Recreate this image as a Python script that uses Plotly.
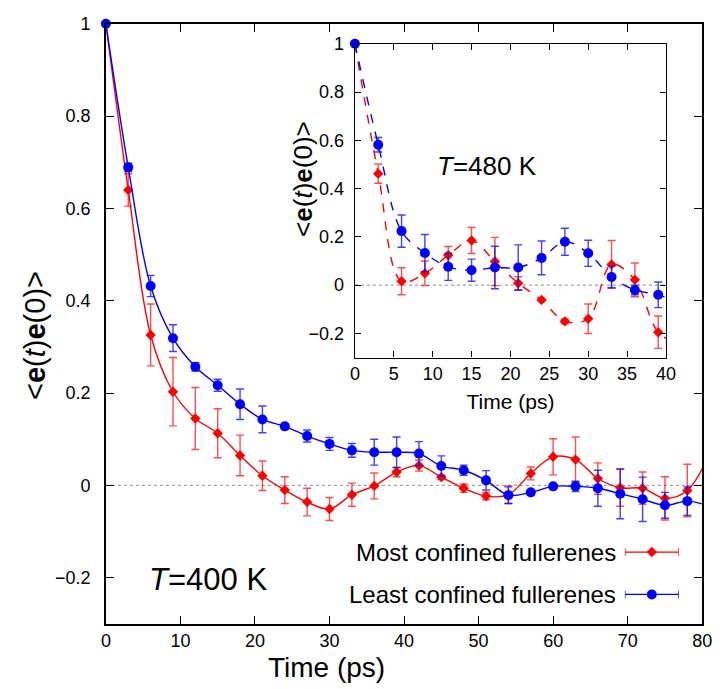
import plotly.graph_objects as go

FONT = "Liberation Sans, Arial, Helvetica, sans-serif"

# ---------------- Main panel data (T = 400 K) ----------------
t_main = [0, 3, 6, 9, 12, 15, 18, 21, 24, 27, 30, 33, 36, 39, 42, 45, 48, 51, 54,
          57, 60, 63, 66, 69, 72, 75, 78]
most_main = [1.0, 0.640, 0.326, 0.203, 0.145, 0.113, 0.065, 0.021, -0.010, -0.036,
             -0.051, -0.020, -0.001, 0.029, 0.043, 0.018, -0.006, -0.023, -0.020,
             0.026, 0.062, 0.056, 0.015, -0.005, -0.006, -0.028, -0.011]
most_main_err = [0.0, 0.035, 0.067, 0.074, 0.067, 0.053, 0.044, 0.032, 0.029, 0.030,
                 0.025, 0.025, 0.028, 0.010, 0.012, 0.005, 0.009, 0.008, 0.019,
                 0.014, 0.039, 0.049, 0.034, 0.040, 0.035, 0.047, 0.057]
least_main = [1.0, 0.689, 0.432, 0.319, 0.257, 0.217, 0.176, 0.143, 0.128, 0.107,
              0.090, 0.076, 0.072, 0.072, 0.069, 0.042, 0.033, 0.011, -0.021,
              -0.015, -0.002, -0.002, -0.006, -0.018, -0.030, -0.043, -0.034]
least_main_err = [0.0, 0.009, 0.023, 0.029, 0.009, 0.013, 0.033, 0.029, 0.006, 0.013,
                  0.014, 0.015, 0.028, 0.033, 0.026, 0.022, 0.011, 0.021, 0.018,
                  0.005, 0.005, 0.011, 0.039, 0.054, 0.048, 0.028, 0.031]
# the curves continue past the right edge of the axes
t_main_tail = [81]
most_main_tail = [0.07]
least_main_tail = [-0.045]

# ---------------- Inset data (T = 480 K) ----------------
t_inset = [0, 3, 6, 9, 12, 15, 18, 21, 24, 27, 30, 33, 36, 39]
most_inset = [1.0, 0.462, 0.016, 0.049, 0.124, 0.185, 0.098, 0.008, -0.061, -0.150,
              -0.139, 0.086, 0.022, -0.195]
most_inset_err = [0.0, 0.040, 0.056, 0.051, 0.036, 0.054, 0.100, 0.027, 0.005, 0.010,
                  0.061, 0.099, 0.070, 0.067]
least_inset = [1.0, 0.582, 0.224, 0.133, 0.076, 0.062, 0.073, 0.073, 0.113, 0.180,
               0.132, 0.034, -0.020, -0.040]
least_inset_err = [0.0, 0.030, 0.067, 0.077, 0.056, 0.046, 0.088, 0.094, 0.070, 0.056,
                   0.054, 0.045, 0.020, 0.053]
t_inset_tail = [42]
most_inset_tail = [-0.25]
least_inset_tail = [-0.08]

series_names = ["Most confined fullerenes", "Least confined fullerenes"]
RED = "rgb(255,0,0)"
BLUE = "rgb(0,0,255)"
RED_ERR = "rgba(255,0,0,0.7)"
BLUE_ERR = "rgba(0,0,255,0.75)"

fig = go.Figure()


def add_series(xa, ya, t, v, e, t_tail, v_tail, color, err_color, symbol, size, dash):
    fig.add_trace(go.Scatter(
        x=t + t_tail, y=v + v_tail, mode="lines",
        line=dict(color=color, width=1.4, shape="spline", smoothing=1.0, dash=dash),
        xaxis=xa, yaxis=ya, showlegend=False, hoverinfo="skip"))
    fig.add_trace(go.Scatter(
        x=t, y=v, mode="markers",
        marker=dict(color=color, symbol=symbol, size=size, line=dict(width=0)),
        error_y=dict(type="data", array=e, color=err_color, thickness=1.4, width=4),
        cliponaxis=False, xaxis=xa, yaxis=ya, showlegend=False))


add_series("x", "y", t_main, most_main, most_main_err, t_main_tail, most_main_tail,
           RED, RED_ERR, "diamond", 8, "solid")
add_series("x", "y", t_main, least_main, least_main_err, t_main_tail, least_main_tail,
           BLUE, BLUE_ERR, "circle", 10, "solid")
add_series("x2", "y2", t_inset, most_inset, most_inset_err, t_inset_tail, most_inset_tail,
           RED, RED_ERR, "diamond", 8, "dash")
add_series("x2", "y2", t_inset, least_inset, least_inset_err, t_inset_tail, least_inset_tail,
           BLUE, BLUE_ERR, "circle", 10, "dash")

# legend (gnuplot style: text on the left, error-bar sample on the right)
legend_y = [1.5, 0.5]
legend_text_y = [0.2017, 0.1393]
for name, ly, ty, color, sym, size in zip(series_names, legend_y, legend_text_y,
                                          [RED, BLUE], ["diamond", "circle"], [8, 10]):
    fig.add_trace(go.Scatter(
        x=[0.5], y=[ly], mode="markers",
        marker=dict(color=color, symbol=sym, size=size),
        error_x=dict(type="constant", value=0.5, color=color, thickness=1.3, width=4),
        xaxis="x3", yaxis="y3", showlegend=False, hoverinfo="skip", name=name))
    fig.add_annotation(x=0.864, y=ty, xref="paper", yref="paper", text=name,
                       showarrow=False, xanchor="right", yanchor="middle",
                       font=dict(family=FONT, size=24, color="black"))

axis_common = dict(showgrid=False, zeroline=False, showline=True, linecolor="black",
                   mirror="ticks", ticks="inside", tickcolor="black")

ylabel = "&lt;<b>e</b>(<i>t</i>)<b>e</b>(0)&gt;"

fig.update_layout(
    width=724, height=689,
    margin=dict(l=0, r=0, t=0, b=0),
    paper_bgcolor="white", plot_bgcolor="rgba(0,0,0,0)",
    font=dict(family=FONT, color="black"),
    showlegend=False,
    xaxis=dict(domain=[0.1423, 0.9834], range=[0, 80], tick0=0, dtick=10,
               anchor="y", ticklen=8, linewidth=1.6, tickwidth=1.4,
               tickfont=dict(size=18), ticklabelstandoff=0,
               **axis_common),
    yaxis=dict(domain=[0.0958, 0.9797], range=[-0.3, 1], tick0=0, dtick=0.2,
               anchor="x", ticklen=8, linewidth=1.6, tickwidth=1.4,
               tickfont=dict(size=18), ticklabelstandoff=10,
               **axis_common),
    xaxis2=dict(domain=[0.4935, 0.9323], range=[0, 40], tick0=0, dtick=5,
                anchor="y2", ticklen=6, linewidth=1.4, tickwidth=1.2,
                tickfont=dict(size=18), ticklabelstandoff=0,
                title=dict(text="Time (ps)", font=dict(size=21), standoff=10),
                **axis_common),
    yaxis2=dict(domain=[0.4881, 0.9502], range=[-0.3, 1], tick0=0, dtick=0.2,
                anchor="x2", ticklen=6, linewidth=1.4, tickwidth=1.2,
                tickfont=dict(size=18), ticklabelstandoff=6,
                **axis_common),
    xaxis3=dict(domain=[0.8743, 0.9503], range=[0, 1], visible=False, anchor="y3"),
    yaxis3=dict(domain=[0.1081, 0.2329], range=[0, 2], visible=False, anchor="x3"),
)

# axis titles placed as in the original
fig.add_annotation(x=0.453, y=0.032, xref="paper", yref="paper", text="Time (ps)",
                   showarrow=False, xanchor="center", yanchor="middle",
                   font=dict(family=FONT, size=28, color="black"))
fig.add_annotation(x=0.042, y=0.521, xref="paper", yref="paper", text=ylabel,
                   textangle=-90, showarrow=False, xanchor="center", yanchor="middle",
                   font=dict(family=FONT, size=29, color="black"))
fig.add_annotation(x=0.421, y=0.752, xref="paper", yref="paper", text=ylabel,
                   textangle=-90, showarrow=False, xanchor="center", yanchor="middle",
                   font=dict(family=FONT, size=26, color="black"))

# dotted zero lines
fig.add_shape(type="line", xref="x", yref="y", x0=0, x1=80, y0=0, y1=0,
              line=dict(color="rgb(160,160,160)", width=1.3, dash="dot"), layer="below")
fig.add_shape(type="line", xref="x2", yref="y2", x0=0, x1=40, y0=0, y1=0,
              line=dict(color="rgb(160,160,160)", width=1.3, dash="dot"), layer="below")

fig.add_annotation(x=0.287, y=0.161, xref="paper", yref="paper",
                   text="<i>T</i>=400 K", showarrow=False,
                   xanchor="center", yanchor="middle",
                   font=dict(family=FONT, size=31, color="black"))
fig.add_annotation(x=0.6796, y=0.7707, xref="paper", yref="paper",
                   text="<i>T</i>=480 K", showarrow=False,
                   xanchor="center", yanchor="middle",
                   font=dict(family=FONT, size=26, color="black"))

fig.write_html("out.html")
